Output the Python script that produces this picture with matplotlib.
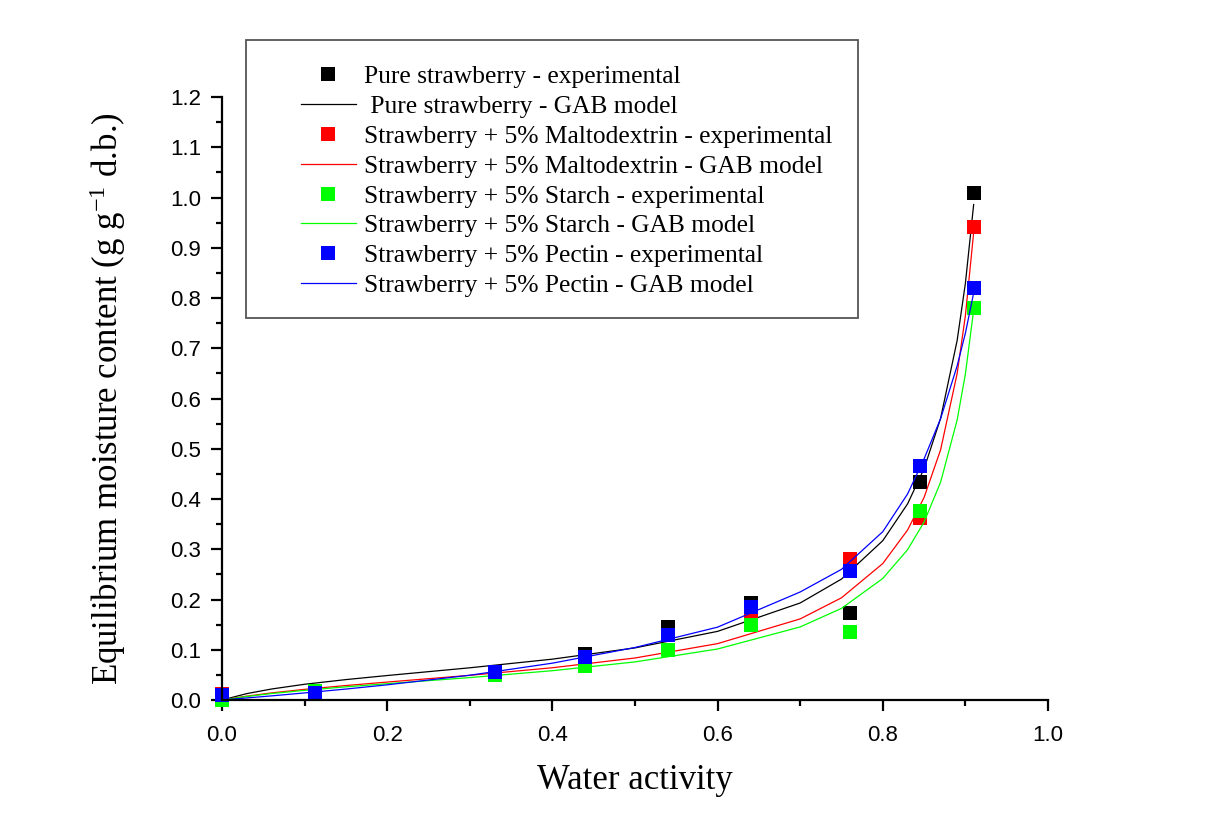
import matplotlib
matplotlib.use("Agg")
import matplotlib.pyplot as plt
from matplotlib.patches import Rectangle

plt.rcParams['mathtext.fontset'] = 'custom'
plt.rcParams['mathtext.rm'] = 'Liberation Serif'
plt.rcParams['mathtext.it'] = 'Liberation Serif:italic'

# experimental points (water activity, moisture content)
aw_exp = [0.0, 0.113, 0.33, 0.44, 0.54, 0.64, 0.76, 0.845, 0.91]
pure_exp = [0.005, 0.015, 0.055, 0.092, 0.146, 0.193, 0.174, 0.434, 1.008]
malto_exp = [0.012, 0.016, 0.054, 0.078, 0.10, 0.158, 0.280, 0.362, 0.941]
starch_exp = [0.0, 0.018, 0.050, 0.068, 0.10, 0.149, 0.136, 0.377, 0.780]
pectin_exp = [0.010, 0.013, 0.056, 0.085, 0.130, 0.185, 0.257, 0.465, 0.820]

# GAB model curves
aw_model = [0.0, 0.03, 0.06, 0.1, 0.15, 0.2, 0.3, 0.4, 0.5, 0.6, 0.7,
            0.75, 0.8, 0.83, 0.85, 0.87, 0.89, 0.9, 0.91]
pure_gab = [0.0, 0.0127, 0.0219, 0.0313, 0.0406, 0.0487, 0.0641, 0.0813,
            0.1037, 0.1366, 0.1931, 0.2407, 0.3171, 0.3903, 0.4605,
            0.5607, 0.7154, 0.8294, 0.986]
malto_gab = [0.0, 0.0077, 0.0141, 0.0212, 0.0288, 0.0357, 0.0491, 0.0642,
             0.0836, 0.1122, 0.1614, 0.2034, 0.2716, 0.3382, 0.4032,
             0.4981, 0.6495, 0.765, 0.93]
starch_gab = [0.0, 0.0070, 0.0128, 0.0192, 0.0262, 0.0324, 0.0446, 0.0583,
              0.0758, 0.1015, 0.1454, 0.1823, 0.2419, 0.2991, 0.3543,
              0.4336, 0.5571, 0.6489, 0.776]
pectin_gab = [0.0, 0.0041, 0.0082, 0.0141, 0.0218, 0.0302, 0.0493, 0.0733,
              0.1045, 0.145, 0.215, 0.26, 0.335, 0.41, 0.48,
              0.56, 0.665, 0.73, 0.81]

names = ['Pure strawberry', 'Strawberry + 5% Maltodextrin',
         'Strawberry + 5% Starch', 'Strawberry + 5% Pectin']
colors = ['black', '#ff0000', '#00ff00', '#0000ff']
exp_sets = [pure_exp, malto_exp, starch_exp, pectin_exp]
gab_sets = [pure_gab, malto_gab, starch_gab, pectin_gab]

W, H = 1205, 831
fig = plt.figure(figsize=(W / 100, H / 100), dpi=100)
ax = fig.add_axes([222 / W, 1 - 700 / H, 826 / W, 603 / H])

for name, col, ye, ym in zip(names, colors, exp_sets, gab_sets):
    ax.plot(aw_exp, ye, linestyle='none', marker='s', markersize=10,
            color=col, markeredgewidth=0, clip_on=False,
            label=name + ' - experimental')
    lab = name + ' - GAB model'
    if name == 'Pure strawberry':
        lab = ' ' + lab
    ax.plot(aw_model, ym, color=col, lw=0.9, label=lab)

ax.set_xlim(0, 1.0)
ax.set_ylim(0, 1.2)
ax.set_xticks([0.0, 0.2, 0.4, 0.6, 0.8, 1.0])
ax.set_xticks([0.1, 0.3, 0.5, 0.7, 0.9], minor=True)
ax.set_yticks([i / 10 for i in range(13)])
ax.set_yticks([0.05 + i / 10 for i in range(12)], minor=True)
ax.set_xticklabels(['0.0', '0.2', '0.4', '0.6', '0.8', '1.0'])
ax.set_yticklabels(['%.1f' % (i / 10) for i in range(13)])

for s in ['top', 'right']:
    ax.spines[s].set_visible(False)
for s in ['left', 'bottom']:
    ax.spines[s].set_linewidth(1.6)

ax.tick_params(which='major', direction='out', length=8, width=1.6,
               labelsize=16)
ax.tick_params(axis='y', which='major', pad=7)
ax.tick_params(axis='x', which='major', pad=10)
ax.tick_params(which='minor', direction='out', length=4.5, width=1.6)
for t in ax.get_xticklabels() + ax.get_yticklabels():
    t.set_fontfamily('Liberation Sans')

ax.set_xlabel('Water activity', fontfamily='Liberation Serif', fontsize=25,
              labelpad=13)
ax.set_ylabel(r'Equilibrium moisture content (g g$^{\mathrm{-1}}$ d.b.)',
              fontfamily='Liberation Serif', fontsize=25, labelpad=30)

# legend box drawn by hand so its padding matches the original
fig.patches.append(Rectangle((246 / W, 1 - 318 / H), 612 / W, 278 / H,
                             transform=fig.transFigure, fill=False,
                             edgecolor='#555555', lw=1.3))
leg = fig.legend(loc='upper left', bbox_to_anchor=(301 / W, 1 - 65.5 / H),
                 prop={'family': 'Liberation Serif', 'size': 18.4},
                 frameon=False, borderpad=0, labelspacing=0.27,
                 handlelength=2.15, handletextpad=0.3,
                 borderaxespad=0, markerscale=1.05)

fig.savefig('out.png', dpi=100)
